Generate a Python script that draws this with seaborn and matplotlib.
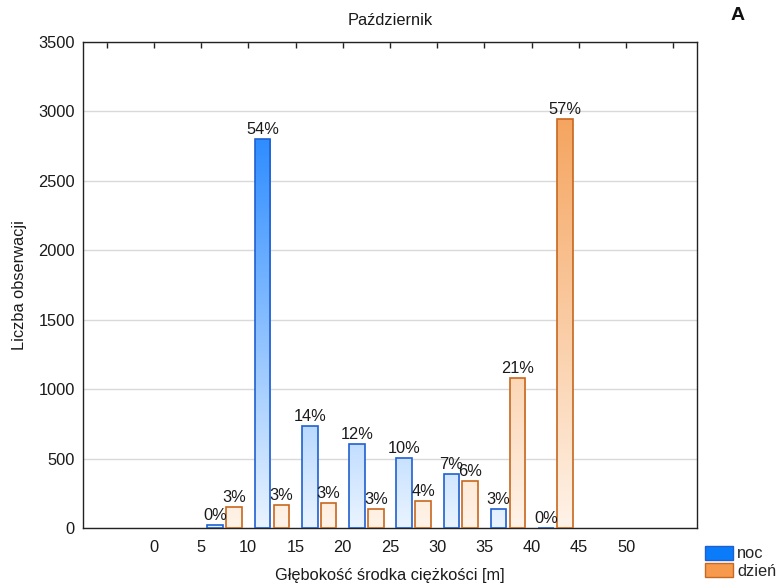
import numpy as np
import pandas as pd
import matplotlib
matplotlib.use('Agg')
import matplotlib.pyplot as plt
from matplotlib.colors import LinearSegmentedColormap
from matplotlib.patches import Patch
import seaborn as sns

# histogram bins (start of 5 m depth class)
bin_start = [5, 10, 15, 20, 25, 30, 35, 40]
noc = [20, 2800, 734, 607, 506, 389, 134, 0]
dzien = [153, 163, 180, 137, 192, 338, 1080, 2945]
noc_pct = ['0%', '54%', '14%', '12%', '10%', '7%', '3%', '0%']
dzien_pct = ['3%', '3%', '3%', '3%', '4%', '6%', '21%', '57%']
series = ['noc', 'dzień']
xticks = [-5, 0, 5, 10, 15, 20, 25, 30, 35, 40, 45, 50, 55]
xticklabels = ['', '0', '5', '10', '15', '20', '25', '30', '35', '40', '45', '50', '']
yticks = [0, 500, 1000, 1500, 2000, 2500, 3000, 3500]

full = {'noc': '#0073ff', 'dzień': '#f39646'}
light = {'noc': '#eaf4ff', 'dzień': '#fff3e8'}
edge = {'noc': '#2060d0', 'dzień': '#c8671f'}

df = pd.DataFrame({
    'x': [b + 2.5 for b in bin_start] * 2,
    'n': noc + dzien,
    'pora': ['noc'] * len(noc) + ['dzień'] * len(dzien),
})

sns.set_style('white')
plt.rcParams['font.family'] = ['Liberation Sans', 'DejaVu Sans']
fs = 11.8
txt = '#1a1a1a'

fig = plt.figure(figsize=(7.81, 5.87), dpi=100)
ax = fig.add_axes([83 / 781, 59 / 587, 614 / 781, 486 / 587])

sns.barplot(data=df, x='x', y='n', hue='pora', hue_order=series,
            native_scale=True, gap=0.17, palette=full, legend=False,
            errorbar=None, ax=ax)

ymax = 3500
grad = np.linspace(0, 1, 256).reshape(-1, 1)
for cont, name, labels in zip(ax.containers, series, [noc_pct, dzien_pct]):
    cmap = LinearSegmentedColormap.from_list(name, [light[name], full[name]])
    for bar, lab in zip(cont, labels):
        x0, w, h = bar.get_x(), bar.get_width(), bar.get_height()
        im = ax.imshow(grad, extent=(x0, x0 + w, 0, ymax), origin='lower',
                       cmap=cmap, aspect='auto', vmin=0, vmax=1, zorder=2)
        im.set_clip_path(bar)
        bar.set_facecolor('none')
        bar.set_edgecolor(edge[name])
        bar.set_linewidth(1.2)
        bar.set_zorder(3)
        ax.annotate(lab, (x0 + w / 2, h), xytext=(0, 1.5), textcoords='offset points',
                    ha='center', va='bottom', fontsize=fs, color=txt, zorder=4)

ax.set_xlim(-7.5, 57.5)
ax.set_ylim(0, ymax)
ax.set_xticks(xticks)
ax.set_xticklabels(xticklabels)
ax.set_yticks(yticks)
ax.yaxis.grid(True, color='#d9d9d9', lw=1)
ax.set_axisbelow(True)
ax.tick_params(direction='in', top=True, right=False, length=4, width=1,
               colors='#222222', labelcolor=txt, labelsize=fs)
ax.tick_params(axis='x', pad=9)
ax.tick_params(axis='y', pad=6)
for s in ax.spines.values():
    s.set_color('#222222')
    s.set_linewidth(1)

ax.set_xlabel('Głębokość środka ciężkości [m]', fontsize=fs, color=txt, labelpad=9)
ax.set_ylabel('Liczba obserwacji', fontsize=fs, color=txt, labelpad=8)
ax.set_title('Październik', fontsize=fs, color=txt, pad=12)
fig.text(738 / 781, 1 - 15 / 587, 'A', fontsize=14, fontweight='bold',
         ha='center', va='center', color='#111111')

handles = [Patch(facecolor='#0a7cf9', edgecolor='#1f5fcf', label='noc'),
           Patch(facecolor='#f89a4e', edgecolor='#c46a25', label='dzień')]
fig.legend(handles=handles, loc='upper left', bbox_to_anchor=(703 / 781, 1 - 544 / 587),
           frameon=False, fontsize=fs, handlelength=1.7, handleheight=0.95,
           handletextpad=0.3, labelspacing=0.1, borderaxespad=0, borderpad=0.1)

fig.savefig('out.png', dpi=100)
